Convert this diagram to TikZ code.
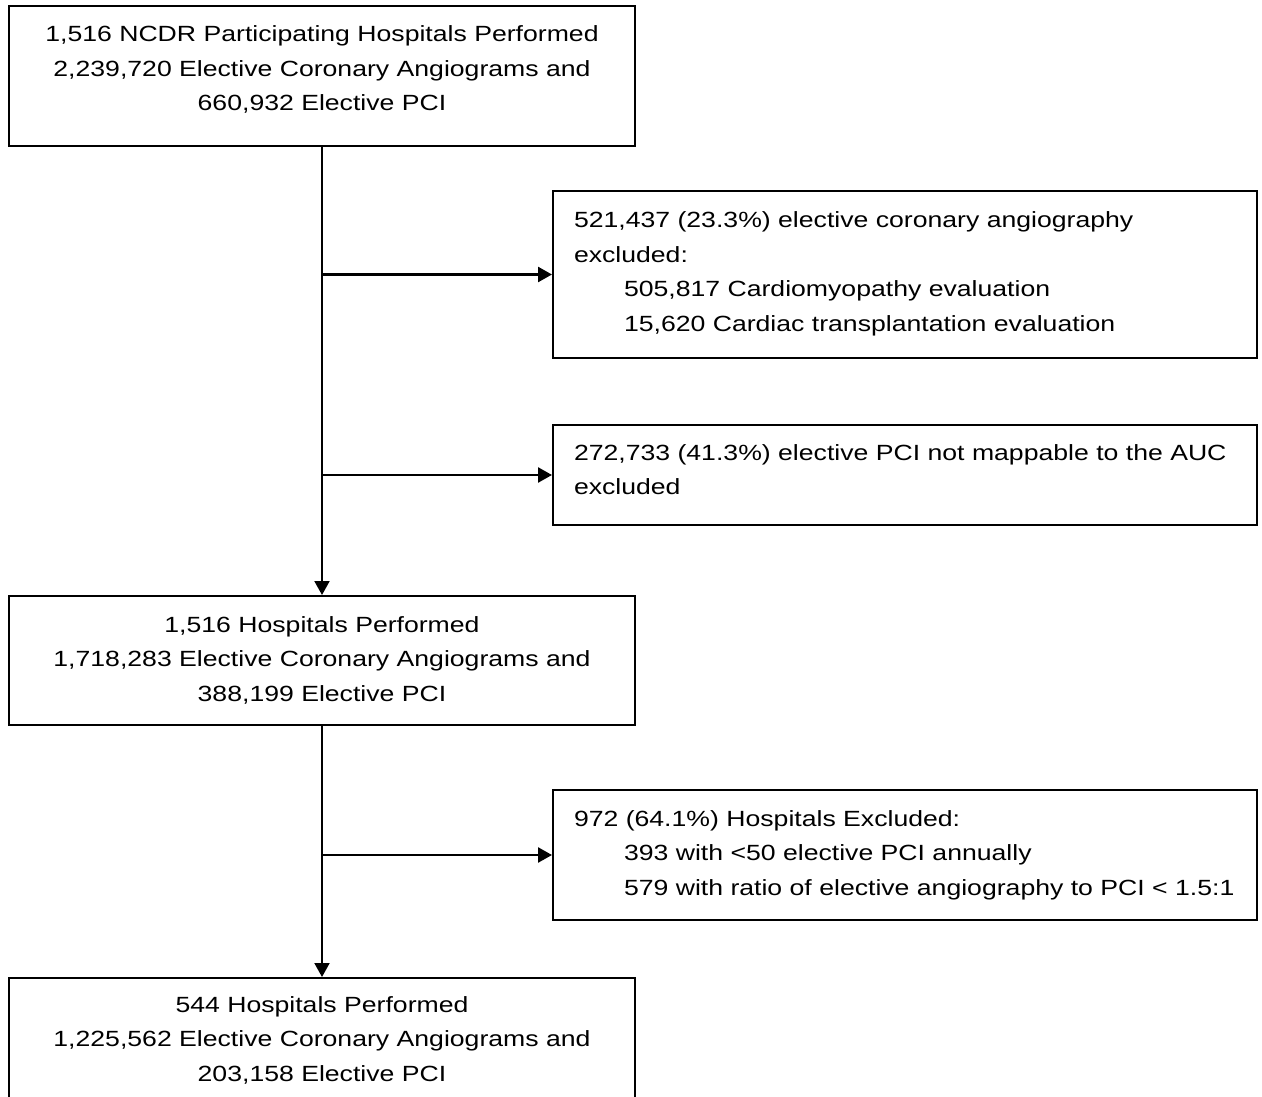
\documentclass[tikz,border=0pt]{standalone}
\usepackage{fontspec}
\setmainfont{Liberation Sans}[FakeStretch=1.21]
\usetikzlibrary{arrows.meta}
\newcommand\cbox[4]{\begin{minipage}[t][#2][t]{#1}\centering\fontsize{22}{34.5}\selectfont\rule{0pt}{#3}#4\end{minipage}}
\newcommand\lbox[4]{\begin{minipage}[t][#2][t]{#1}\raggedright\leftskip=21pt\fontsize{22}{34.5}\selectfont\rule{0pt}{#3}#4\end{minipage}}
\newcommand\ind{\hspace*{50pt}}
\begin{document}
\begin{tikzpicture}[x=1pt,y=-1pt,
  box/.style={draw, line width=2pt, inner sep=0pt, anchor=north west},
  varr/.style={line width=2pt, -{Triangle[length=14pt,width=15pt]}},
  harr/.style={line width=2.5pt, -{Triangle[length=14pt,width=15pt]}}]
\useasboundingbox (0,0) rectangle (1262,1097);
\clip (0,0) rectangle (1262,1097);
\node[box] (b1) at (8,5) {\cbox{626pt}{140pt}{36pt}{1,516 NCDR Participating Hospitals Performed\\2,239,720 Elective Coronary Angiograms and\\660,932 Elective PCI}};
\node[box] (b2) at (552,190) {\lbox{704pt}{167pt}{37pt}{521,437 (23.3\%) elective coronary angiography\\excluded:\\\ind 505,817 Cardiomyopathy evaluation\\\ind 15,620 Cardiac transplantation evaluation}};
\node[box] (b3) at (552,424) {\lbox{704pt}{100pt}{35pt}{272,733 (41.3\%) elective PCI not mappable to the AUC\\excluded}};
\node[box] (b4) at (8,595) {\cbox{626pt}{129pt}{36pt}{1,516 Hospitals Performed\\1,718,283 Elective Coronary Angiograms and\\388,199 Elective PCI}};
\node[box] (b5) at (552,789) {\lbox{704pt}{130pt}{36pt}{972 (64.1\%) Hospitals Excluded:\\\ind 393 with <50 elective PCI annually\\\ind 579 with ratio of elective angiography to PCI < 1.5:1}};
\node[box] (b6) at (8,977) {\cbox{626pt}{140pt}{34pt}{544 Hospitals Performed\\1,225,562 Elective Coronary Angiograms and\\203,158 Elective PCI}};
\draw[varr] (b1.south) -- (b4.north);
\draw[varr] (b4.south) -- (b6.north);
\draw[harr] (b1.south |- b2.west) -- (b2.west);
\draw[harr] (b1.south |- b3.west) -- (b3.west);
\draw[harr] (b4.south |- b5.west) -- (b5.west);
\end{tikzpicture}
\end{document}
